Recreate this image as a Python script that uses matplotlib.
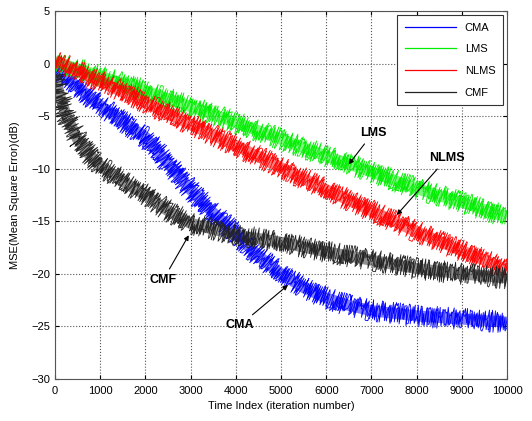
import matplotlib
matplotlib.use("Agg")
import matplotlib.pyplot as plt
import numpy as np

plt.rcParams['font.family'] = ['Liberation Sans', 'DejaVu Sans']

# Learning curves (MSE in dB) sampled along the iteration axis
iters_cma = [0, 500, 1000, 1500, 2000, 2500, 3000, 3500, 4000, 4500, 5000,
             5500, 6000, 6500, 7000, 8000, 9000, 10000]
mse_cma = [-0.5, -2.2, -4.0, -5.5, -7.0, -9.5, -12.0, -14.2, -16.2, -18.3,
           -20.0, -21.3, -22.3, -23.0, -23.5, -24.0, -24.3, -24.6]

iters_lin = [0, 1000, 2000, 3000, 4000, 5000, 6000, 7000, 8000, 9000, 10000]
mse_lms = [0.2, -1.2, -2.6, -4.1, -5.6, -7.2, -8.8, -10.3, -11.9, -13.2, -14.6]
mse_nlms = [0.3, -1.7, -3.7, -5.8, -7.8, -9.9, -12.0, -14.0, -16.0, -17.8, -19.6]

iters_cmf = [0, 100, 250, 500, 750, 1000, 1500, 2000, 2500, 3000, 4000, 5000,
             6000, 7000, 8000, 9000, 10000]
mse_cmf = [-1.0, -3.0, -5.0, -7.2, -8.6, -9.7, -11.2, -12.5, -14.0, -15.2,
           -16.3, -17.0, -17.9, -18.7, -19.5, -20.0, -20.4]

fig = plt.figure(figsize=(5.32, 4.21), dpi=100)
ax = fig.add_axes([0.1034, 0.0998, 0.8496, 0.8741])

curves = [
    ('CMA', iters_cma, mse_cma, '#0000ff'),
    ('LMS', iters_lin, mse_lms, '#00ee00'),
    ('NLMS', iters_lin, mse_nlms, '#ff0000'),
    ('CMF', iters_cmf, mse_cmf, '#222222'),
]
for name, xs, ys, col in curves:
    # a soft core band plus jagged strokes for the noisy estimate
    ax.plot(xs, ys, color=col, lw=8, alpha=0.5, solid_capstyle='butt')
    ln, = ax.plot(xs, ys, color=col, lw=0.6, label=name)
    ln.set_sketch_params(scale=11, length=0.3, randomness=1.5)
    ln2, = ax.plot(xs, ys, color=col, lw=0.6)
    ln2.set_sketch_params(scale=9, length=0.2, randomness=4)

ax.set_xlim(0, 10000)
ax.set_ylim(-30, 5)
ax.set_xticks(np.arange(0, 10001, 1000))
ax.set_yticks(np.arange(-30, 6, 5))
ax.tick_params(direction='in', top=True, right=True, labelsize=8, length=3)
ax.tick_params(axis='x', pad=5)
ax.grid(True, ls=':', color='#555555', lw=0.8)
for s in ax.spines.values():
    s.set_color('#555555')
ax.set_xlabel('Time Index (iteration number)', fontsize=8, labelpad=4)
ax.set_ylabel('MSE(Mean Square Error)(dB)', fontsize=8, labelpad=8)

leg = ax.legend(loc='upper right', fontsize=8, fancybox=False, framealpha=1,
                edgecolor='#333333', handlelength=4.6, borderpad=0.7,
                labelspacing=1.05, borderaxespad=0.35)
leg.get_frame().set_linewidth(0.8)
for h in leg.legend_handles:
    h.set_sketch_params(None)
    h.set_linewidth(0.9)

arrow = dict(arrowstyle='-|>', color='black', lw=0.8, mutation_scale=7)
ax.annotate('LMS', xy=(6460, -9.8), xytext=(7035, -6.6), fontsize=9,
            fontweight='bold', ha='center', va='center', arrowprops=arrow)
ax.annotate('NLMS', xy=(7520, -14.6), xytext=(8670, -9.0), fontsize=9,
            fontweight='bold', ha='center', va='center', arrowprops=arrow)
ax.annotate('CMF', xy=(2990, -16.1), xytext=(2390, -20.6), fontsize=9,
            fontweight='bold', ha='center', va='center', arrowprops=arrow)
ax.annotate('CMA', xy=(5200, -20.9), xytext=(4090, -24.9), fontsize=9,
            fontweight='bold', ha='center', va='center', arrowprops=arrow)

fig.savefig('out.png', dpi=100)
